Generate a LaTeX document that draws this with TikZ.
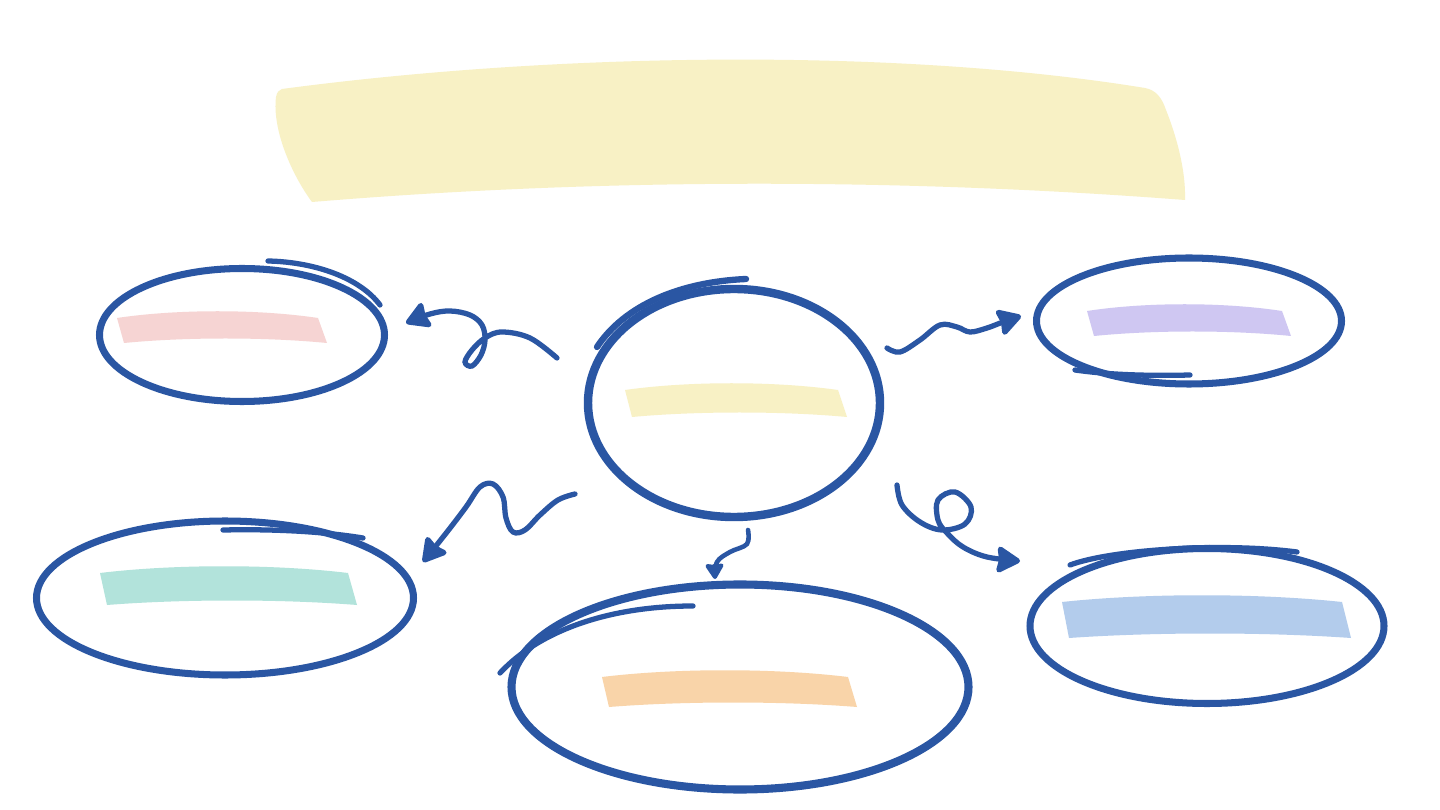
\documentclass[tikz,border=0pt]{standalone}
\usetikzlibrary{positioning, arrows.meta, shapes.geometric, calc}
\definecolor{ink}{HTML}{2A56A3}
\definecolor{banner}{HTML}{F8F1C5}
\definecolor{rose}{HTML}{F6D4D3}
\definecolor{lilac}{HTML}{CFC7F2}
\definecolor{mint}{HTML}{B2E3DB}
\definecolor{peach}{HTML}{F9D4A9}
\definecolor{sky}{HTML}{B3CCEC}

\begin{document}
\begin{tikzpicture}[
            x=0.02cm, y=-0.02cm,
            bubble/.style={ellipse, draw=ink, line width=4pt, inner sep=0pt},
            squiggle/.style={draw=ink, line width=3pt, line cap=round,
                -{Stealth[length=15pt 0 0, width=17pt 0 0, inset=1.5pt, round]}},
            nudge/.style={squiggle, line width=2.6pt,
                -{Stealth[length=10pt 0 0, width=12pt 0 0, inset=1pt, round]}},
            scribble/.style={draw=ink, line width=3pt, line cap=round},
        ]
            \def\px{0.02cm}
            \def\arch{9}
            \fill[white] (0,0) rectangle (1440,810);
            \useasboundingbox (0,0) rectangle (1440,810);

            % Draw the title banner
            \fill[banner] (282,89) .. controls (560,52) and (900,48) .. (1145,88)
                .. controls (1156,90) and (1162,98) .. (1166,110)
                .. controls (1176,135) and (1186,170) .. (1185,200)
                .. controls (900,178) and (600,178) .. (312,202)
                .. controls (292,175) and (272,130) .. (276,97)
                .. controls (277,92) and (279,90) .. (282,89) -- cycle;

            % Draw the bubbles
            \foreach \name/\x/\y/\w/\h in {nw/242/335/285/133, ne/1189/321/305/126,
                    sw/225/598/377/154, se/1207/626/354/155}
                \node[bubble, minimum width=\w*\px, minimum height=\h*\px] (\name) at (\x,\y) {};
            \node[bubble, line width=4.8pt, minimum width=292*\px, minimum height=228*\px] (hub) at (734,403) {};
            \node[bubble, line width=4.6pt, minimum width=457*\px, minimum height=205*\px] (s) at (740,687) {};

            % Draw the coloured strips inside the bubbles
            \foreach \xl/\xr/\yt/\h/\col in {625/838/390/27/banner, 117/318/318/25/rose,
                    1087/1282/311/25/lilac, 100/348/573/32/mint, 602/848/677/30/peach,
                    1062/1342/602/36/sky}
                \fill[\col] (\xl,\yt) .. controls ({\xl+0.3*(\xr-\xl)},\yt-\arch)
                    and ({\xl+0.7*(\xr-\xl)},\yt-\arch) .. (\xr,\yt)
                    -- (\xr+9,\yt+\h) .. controls ({\xl+0.7*(\xr-\xl)+8},\yt+\h-6)
                    and ({\xl+0.3*(\xr-\xl)+8},\yt+\h-6) .. (\xl+7,\yt+\h) -- cycle;

            % Draw the extra pen strokes round the bubbles
            \draw[scribble] (268,261) .. controls (315,262) and (360,278) .. (380,305);
            \draw[scribble] (1075,370) .. controls (1110,375) and (1150,376) .. (1190,375);
            \draw[scribble] (223,530) .. controls (270,529) and (320,531) .. (363,538);
            \draw[scribble] (1070,565) .. controls (1110,550) and (1220,542) .. (1297,552);
            \draw[scribble, line width=3.6pt] (597,347) .. controls (625,305) and (680,282) .. (746,279);
            \draw[scribble] (500,673) .. controls (540,630) and (610,606) .. (693,606);

            % Ends of the arrows
            \coordinate (hub-nw) at (557,358);
            \coordinate (nw-in) at (406,323);
            \coordinate (hub-sw) at (575,494);
            \coordinate (sw-in) at (423,562);
            \coordinate (hub-s) at (748,530);
            \coordinate (s-in) at (715,579);
            \coordinate (hub-ne) at (887,348);
            \coordinate (ne-in) at (1021,316);
            \coordinate (hub-se) at (897,485);
            \coordinate (se-in) at (1020,561);

            % Connect the hub with every bubble
            \draw[squiggle] plot[smooth, tension=0.6] coordinates {(hub-nw) (530,338) (502,332)
                (485,338) (472,350) (465,362) (472,366) (481,355) (485,340) (482,325)
                (470,315) (450,311) (430,314) (nw-in)};
            \draw[squiggle] plot[smooth, tension=0.6] coordinates {(hub-sw) (558,500) (540,515)
                (525,530) (513,532) (506,518) (503,497) (493,484) (480,487) (466,507)
                (447,532) (sw-in)};
            \draw[nudge] plot[smooth, tension=0.6] coordinates {(hub-s) (747,544) (730,552)
                (717,562) (s-in)};
            \draw[squiggle] plot[smooth, tension=0.6] coordinates {(hub-ne) (900,352) (920,340)
                (940,325) (957,327) (970,332) (987,328) (1003,322) (ne-in)};
            \draw[squiggle] plot[smooth, tension=0.6] coordinates {(hub-se) (902,505) (920,522)
                (942,530) (965,524) (971,507) (955,492) (938,500) (938,520) (947,533)
                (963,547) (987,557) (se-in)};
        \end{tikzpicture}
\end{document}
